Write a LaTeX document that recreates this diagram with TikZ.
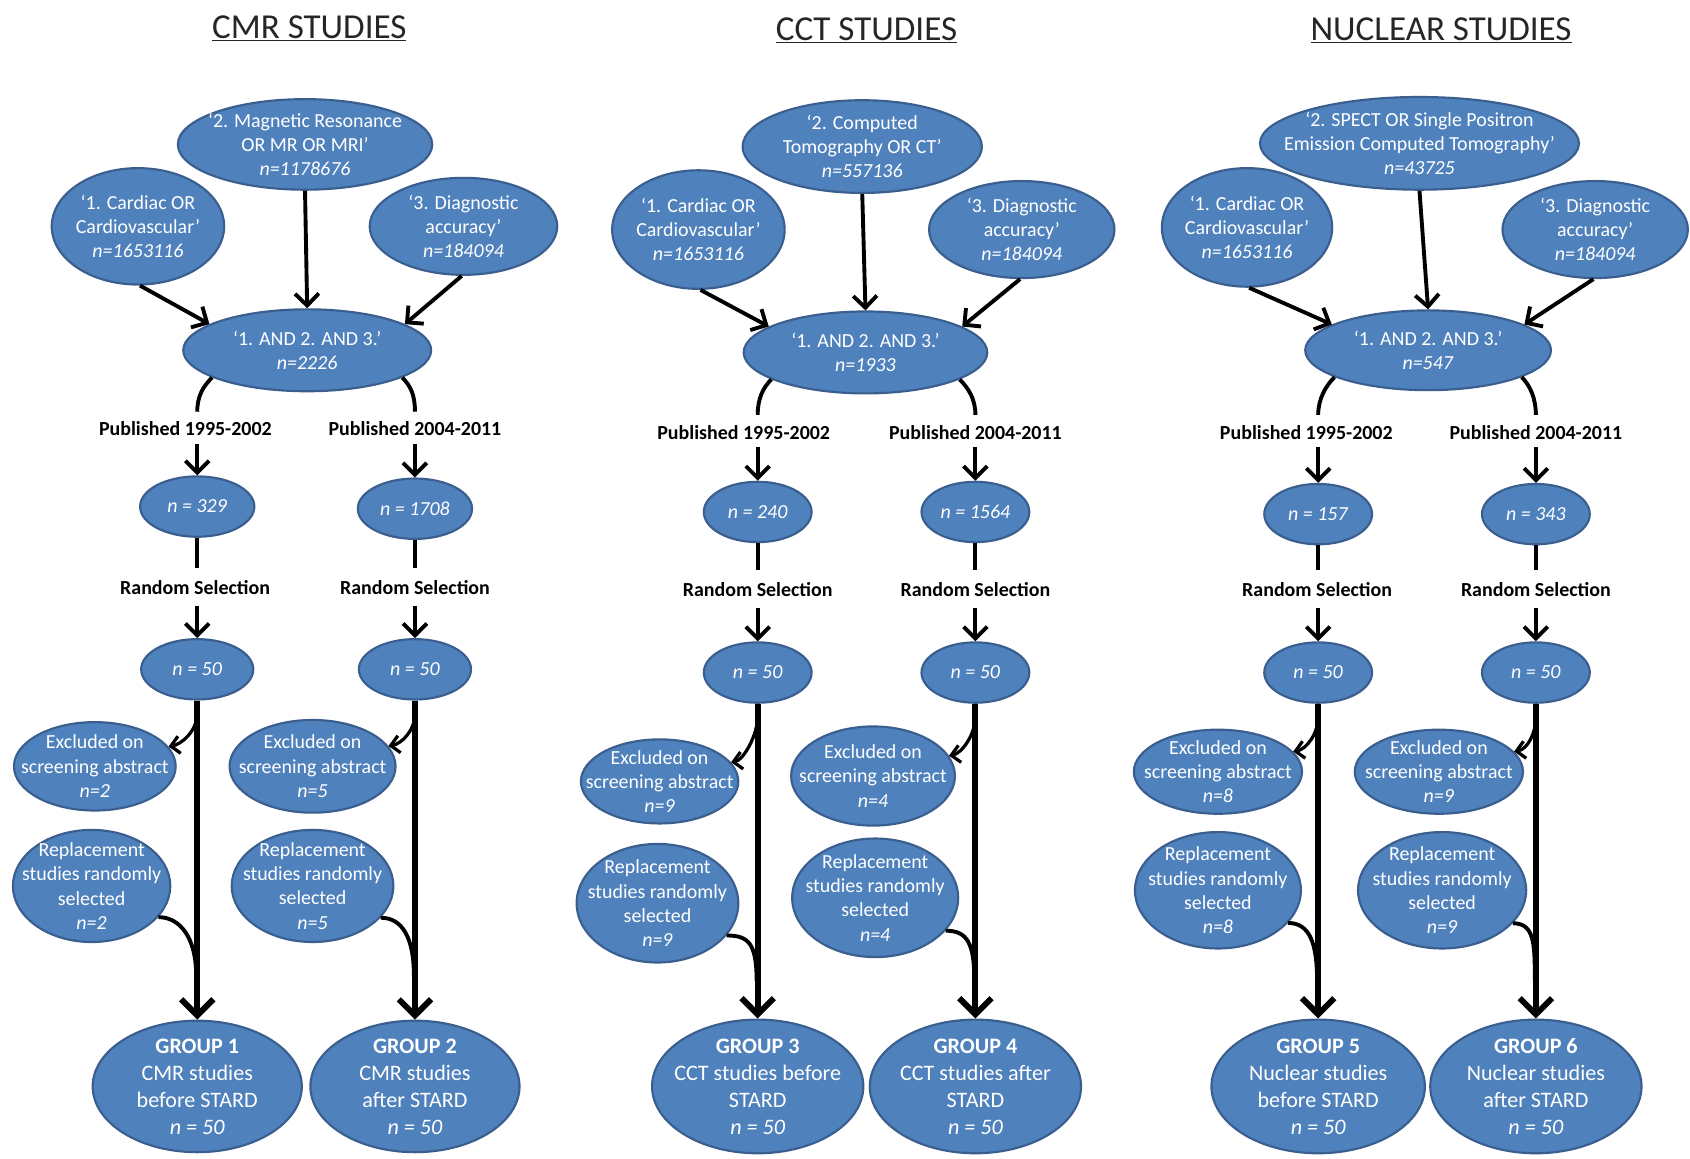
\documentclass[tikz,border=0pt]{standalone}
\usepackage{fontspec}
\setmainfont{Carlito}
\usetikzlibrary{shapes.geometric, arrows.meta}
\definecolor{eblue}{HTML}{4F81BD}
\definecolor{eborder}{HTML}{3A5F8E}
\newcommand{\ellN}[6][etxt]{%
  \node[ell, minimum width=#4, minimum height=#5] (#2) at (#3) {};
  \node[#1] (#2t) at (#2) {#6};}
\begin{document}
\begin{tikzpicture}[x=1pt,y=-1pt,
  ell/.style={ellipse, fill=eblue, draw=eborder, line width=2pt, inner sep=0pt},
  etxt/.style={text=white, align=center, inner sep=0pt, font=\fontsize{18.5}{22.5}\selectfont},
  gtxt/.style={text=white, align=center, inner sep=0pt, font=\fontsize{20.5}{25}\selectfont},
  lbl/.style={inner sep=0pt, font=\bfseries\fontsize{18.5}{21}\selectfont},
  ttl/.style={inner sep=0pt, text=black!85, font=\fontsize{32.5}{35}\selectfont},
  arr/.style={line width=3.6pt, -{Straight Barb[length=11pt,width=22pt]}},
  sarr/.style={line width=3pt, -{Straight Barb[length=8pt,width=16pt]}},
  ln/.style={line width=3.6pt},
  big/.style={line width=5.5pt, -{Straight Barb[length=15pt,width=30pt]}},
]
\fill[white] (0,0) rectangle (1568,1075);
\useasboundingbox (0,0) rectangle (1568,1075);

% ================= CMR =================
\node[ttl] (c1title) at (287,26) {\underline{CMR STUDIES}};
\ellN{c1e2}{283,134}{236}{84}{‘2. Magnetic Resonance\\OR MR OR MRI’\\\textit{n=1178676}}
\ellN{c1e1}{128,210}{160}{108}{‘1. Cardiac OR\\Cardiovascular’\\\textit{n=1653116}}
\ellN{c1e3}{430,210}{174}{90}{‘3. Diagnostic\\accuracy’\\\textit{n=184094}}
\ellN{c1and}{285,325}{230}{76}{‘1. AND 2. AND 3.’\\\textit{n=2226}}
\ellN{c1n1}{183,470}{106}{56}{\textit{n = 329}}
\ellN{c1n2}{385,472}{106}{56}{\textit{n = 1708}}
\ellN{c1m1}{183,621}{104}{56}{\textit{n = 50}}
\ellN{c1m2}{385,621}{104}{56}{\textit{n = 50}}
\ellN{c1ex1}{88,711}{150}{82}{Excluded on\\screening abstract\\\textit{n=2}}
\ellN{c1ex2}{290,711}{154}{86}{Excluded on\\screening abstract\\\textit{n=5}}
\ellN{c1rp1}{85,822}{146}{104}{Replacement\\studies randomly\\selected\\\textit{n=2}}
\ellN{c1rp2}{290,822}{150}{104}{Replacement\\studies randomly\\selected\\\textit{n=5}}
\ellN[gtxt]{c1g1}{183,1008}{194}{122}{\textbf{GROUP 1}\\CMR studies\\before STARD\\\textit{n = 50}}
\ellN[gtxt]{c1g2}{385,1008}{194}{122}{\textbf{GROUP 2}\\CMR studies\\after STARD\\\textit{n = 50}}
\node[lbl] (c1p1) at (172,398) {Published 1995-2002};
\node[lbl] (c1p2) at (385,398) {Published 2004-2011};
\node[lbl] (c1r1) at (181,545) {Random Selection};
\node[lbl] (c1r2) at (385,545) {Random Selection};
\coordinate (c1a1) at (183,382); \coordinate (c1a2) at (385,382);
\coordinate (c1q1) at (183,412); \coordinate (c1q2) at (385,412);
\coordinate (c1s1) at (183,527); \coordinate (c1s2) at (385,527);
\coordinate (c1t1) at (183,562); \coordinate (c1t2) at (385,562);
\coordinate (c1x1) at (183,662); \coordinate (c1x2) at (385,662);
\coordinate (c1y1) at (182,905); \coordinate (c1y2) at (384,905);
\draw[arr] (c1e1.-88) -- (c1and.165);
\draw[arr] (c1e2.south) -- (c1and.north);
\draw[arr] (c1e3.-92) -- (c1and.15);
\draw[ln] (c1and.-164) .. controls +(-8,8) and +(0,-15) .. (c1a1);
\draw[ln] (c1and.-16) .. controls +(8,8) and +(0,-15) .. (c1a2);
\draw[arr] (c1q1) -- (c1n1);
\draw[arr] (c1q2) -- (c1n2);
\draw[ln] (c1n1) -- (c1s1);
\draw[ln] (c1n2) -- (c1s2);
\draw[arr] (c1t1) -- (c1m1);
\draw[arr] (c1t2) -- (c1m2);
\draw[big] (c1m1) -- (c1g1);
\draw[big] (c1m2) -- (c1g2);
\draw[sarr] (c1x1) .. controls +(0,16) and +(12,-2) .. (c1ex1.15);
\draw[sarr] (c1x2) .. controls +(0,16) and +(12,-2) .. (c1ex2.15);
\draw[ln] (c1rp1.-25) .. controls +(20,0) and +(0,-35) .. (c1y1);
\draw[ln] (c1rp2.-25) .. controls +(20,0) and +(0,-35) .. (c1y2);

% ================= CCT =================
\node[ttl] (c2title) at (804,28) {\underline{CCT STUDIES}};
\ellN{c2e2}{800,136}{222}{86}{‘2. Computed\\Tomography OR CT’\\\textit{n=557136}}
\ellN{c2e1}{648,213}{160}{110}{‘1. Cardiac OR\\Cardiovascular’\\\textit{n=1653116}}
\ellN{c2e3}{948,213}{172}{90}{‘3. Diagnostic\\accuracy’\\\textit{n=184094}}
\ellN{c2and}{803,327}{226}{76}{‘1. AND 2. AND 3.’\\\textit{n=1933}}
\ellN{c2n1}{703,475}{100}{56}{\textit{n = 240}}
\ellN{c2n2}{905,475}{100}{56}{\textit{n = 1564}}
\ellN{c2m1}{703,624}{100}{56}{\textit{n = 50}}
\ellN{c2m2}{905,624}{100}{56}{\textit{n = 50}}
\ellN{c2ex1}{612,725}{146}{78}{Excluded on\\screening abstract\\\textit{n=9}}
\ellN{c2ex2}{810,720}{152}{92}{Excluded on\\screening abstract\\\textit{n=4}}
\ellN{c2rp1}{610,838}{150}{110}{Replacement\\studies randomly\\selected\\\textit{n=9}}
\ellN{c2rp2}{812,833}{154}{110}{Replacement\\studies randomly\\selected\\\textit{n=4}}
\ellN[gtxt]{c2g1}{703,1008}{196}{124}{\textbf{GROUP 3}\\CCT studies before\\STARD\\\textit{n = 50}}
\ellN[gtxt]{c2g2}{905,1008}{196}{124}{\textbf{GROUP 4}\\CCT studies after\\STARD\\\textit{n = 50}}
\node[lbl] (c2p1) at (690,401) {Published 1995-2002};
\node[lbl] (c2p2) at (905,401) {Published 2004-2011};
\node[lbl] (c2r1) at (703,547) {Random Selection};
\node[lbl] (c2r2) at (905,547) {Random Selection};
\coordinate (c2a1) at (703,385); \coordinate (c2a2) at (905,385);
\coordinate (c2q1) at (703,415); \coordinate (c2q2) at (905,415);
\coordinate (c2s1) at (703,529); \coordinate (c2s2) at (905,529);
\coordinate (c2t1) at (703,564); \coordinate (c2t2) at (905,564);
\coordinate (c2x1) at (703,665); \coordinate (c2x2) at (905,665);
\coordinate (c2y1) at (702,910); \coordinate (c2y2) at (904,910);
\draw[arr] (c2e1.-88) -- (c2and.165);
\draw[arr] (c2e2.south) -- (c2and.north);
\draw[arr] (c2e3.-92) -- (c2and.15);
\draw[ln] (c2and.-164) .. controls +(-8,8) and +(0,-15) .. (c2a1);
\draw[ln] (c2and.-16) .. controls +(8,8) and +(0,-15) .. (c2a2);
\draw[arr] (c2q1) -- (c2n1);
\draw[arr] (c2q2) -- (c2n2);
\draw[ln] (c2n1) -- (c2s1);
\draw[ln] (c2n2) -- (c2s2);
\draw[arr] (c2t1) -- (c2m1);
\draw[arr] (c2t2) -- (c2m2);
\draw[big] (c2m1) -- (c2g1);
\draw[big] (c2m2) -- (c2g2);
\draw[sarr] (c2x1) .. controls +(0,16) and +(12,-2) .. (c2ex1.15);
\draw[sarr] (c2x2) .. controls +(0,16) and +(12,-2) .. (c2ex2.15);
\draw[ln] (c2rp1.-25) .. controls +(20,0) and +(0,-35) .. (c2y1);
\draw[ln] (c2rp2.-25) .. controls +(20,0) and +(0,-35) .. (c2y2);

% ================= NUCLEAR =================
\node[ttl] (c3title) at (1337,28) {\underline{NUCLEAR STUDIES}};
\ellN{c3e2}{1317,133}{296}{86}{‘2. SPECT OR Single Positron\\Emission Computed Tomography’\\\textit{n=43725}}
\ellN{c3e1}{1157,211}{158}{110}{‘1. Cardiac OR\\Cardiovascular’\\\textit{n=1653116}}
\ellN{c3e3}{1480,213}{172}{90}{‘3. Diagnostic\\accuracy’\\\textit{n=184094}}
\ellN{c3and}{1325,325}{228}{74}{‘1. AND 2. AND 3.’\\\textit{n=547}}
\ellN{c3n1}{1223,477}{100}{56}{\textit{n = 157}}
\ellN{c3n2}{1425,477}{100}{56}{\textit{n = 343}}
\ellN{c3m1}{1223,624}{100}{56}{\textit{n = 50}}
\ellN{c3m2}{1425,624}{100}{56}{\textit{n = 50}}
\ellN{c3ex1}{1130,716}{156}{78}{Excluded on\\screening abstract\\\textit{n=8}}
\ellN{c3ex2}{1335,716}{156}{78}{Excluded on\\screening abstract\\\textit{n=9}}
\ellN{c3rp1}{1130,826}{154}{108}{Replacement\\studies randomly\\selected\\\textit{n=8}}
\ellN{c3rp2}{1338,826}{156}{108}{Replacement\\studies randomly\\selected\\\textit{n=9}}
\ellN[gtxt]{c3g1}{1223,1008}{198}{124}{\textbf{GROUP 5}\\Nuclear studies\\before STARD\\\textit{n = 50}}
\ellN[gtxt]{c3g2}{1425,1008}{196}{124}{\textbf{GROUP 6}\\Nuclear studies\\after STARD\\\textit{n = 50}}
\node[lbl] (c3p1) at (1212,401) {Published 1995-2002};
\node[lbl] (c3p2) at (1425,401) {Published 2004-2011};
\node[lbl] (c3r1) at (1222,547) {Random Selection};
\node[lbl] (c3r2) at (1425,547) {Random Selection};
\coordinate (c3a1) at (1223,385); \coordinate (c3a2) at (1425,385);
\coordinate (c3q1) at (1223,415); \coordinate (c3q2) at (1425,415);
\coordinate (c3s1) at (1223,529); \coordinate (c3s2) at (1425,529);
\coordinate (c3t1) at (1223,564); \coordinate (c3t2) at (1425,564);
\coordinate (c3x1) at (1223,665); \coordinate (c3x2) at (1425,665);
\coordinate (c3y1) at (1222,910); \coordinate (c3y2) at (1424,910);
\draw[arr] (c3e1.-88) -- (c3and.165);
\draw[arr] (c3e2.south) -- (c3and.north);
\draw[arr] (c3e3.-92) -- (c3and.15);
\draw[ln] (c3and.-164) .. controls +(-8,8) and +(0,-15) .. (c3a1);
\draw[ln] (c3and.-16) .. controls +(8,8) and +(0,-15) .. (c3a2);
\draw[arr] (c3q1) -- (c3n1);
\draw[arr] (c3q2) -- (c3n2);
\draw[ln] (c3n1) -- (c3s1);
\draw[ln] (c3n2) -- (c3s2);
\draw[arr] (c3t1) -- (c3m1);
\draw[arr] (c3t2) -- (c3m2);
\draw[big] (c3m1) -- (c3g1);
\draw[big] (c3m2) -- (c3g2);
\draw[sarr] (c3x1) .. controls +(0,16) and +(12,-2) .. (c3ex1.15);
\draw[sarr] (c3x2) .. controls +(0,16) and +(12,-2) .. (c3ex2.15);
\draw[ln] (c3rp1.-25) .. controls +(20,0) and +(0,-35) .. (c3y1);
\draw[ln] (c3rp2.-25) .. controls +(20,0) and +(0,-35) .. (c3y2);
\end{tikzpicture}
\end{document}
